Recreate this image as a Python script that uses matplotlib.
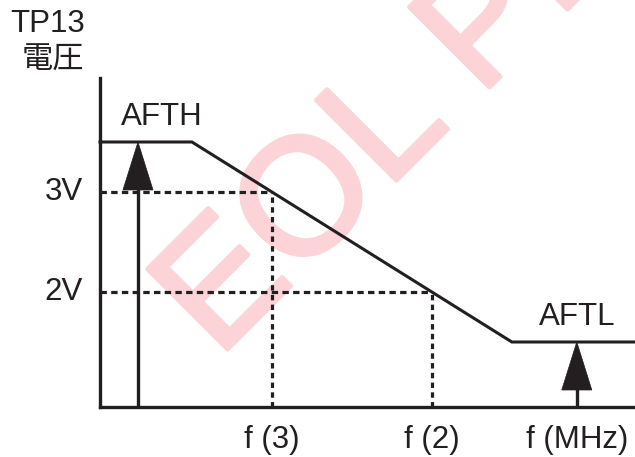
import matplotlib
matplotlib.use("Agg")
import matplotlib.pyplot as plt
import matplotlib.patheffects as pe
from matplotlib.patches import Polygon

plt.rcParams['font.family'] = ['Liberation Sans', 'Noto Sans CJK JP', 'DejaVu Sans']

# response curve: AFTH plateau, linear slope, AFTL plateau
curve_f = [0.925, 1.5, 3.5, 4.27]
curve_v = [3.5, 3.5, 1.5, 1.5]

# reference points on the slope
ref_v = [3.0, 2.0]
ref_f = [2.0, 3.0]
ref_vlabels = ['3V', '2V']
ref_flabels = ['f (3)', 'f (2)']

# AFTH / AFTL adjust arrows
arrow_f = [1.1625, 3.906]
arrow_v = [3.5, 1.5]
arrow_labels = ['AFTH', 'AFTL']
arrow_label_f = [1.31, 3.906]

xmin, xmax = 0.925, 4.27
ymin, ymax = 0.85, 4.14

W, H = 635, 457
fs = 22.5
ink = '#231f20'
wm = '#fcd3d7'

fig = plt.figure(figsize=(W / 100, H / 100), dpi=100)
ax = fig.add_axes([100 / W, (H - 407) / H, 535 / W, (407 - 78) / H])
ax.set_xlim(xmin, xmax)
ax.set_ylim(ymin, ymax)
for s in ['top', 'right']:
    ax.spines[s].set_visible(False)
for s in ['left', 'bottom']:
    ax.spines[s].set_linewidth(2.4)
    ax.spines[s].set_color(ink)
ax.set_xticks([])
ax.set_yticks([])
ax.patch.set_alpha(0)

# watermark, behind everything
ax.text(218 / W, (H - 359) / H, 'EOL PHOTO', transform=fig.transFigure, fontsize=119,
        color=wm, rotation=45, rotation_mode='anchor',
        ha='left', va='baseline', zorder=0, clip_on=False,
        path_effects=[pe.withStroke(linewidth=3, foreground=wm)])

ax.plot(curve_f, curve_v, color=ink, lw=2.2, solid_joinstyle='miter', clip_on=False, zorder=3)

for v, f, vl, fl in zip(ref_v, ref_f, ref_vlabels, ref_flabels):
    ax.plot([xmin, f], [v, v], color=ink, lw=2.3, ls=(0, (2.0, 1.35)), zorder=2)
    ax.plot([f, f], [ymin, v], color=ink, lw=2.3, ls=(0, (1.7, 1.35)), zorder=2)
    ax.text(xmin - 0.106, v, vl, ha='right', va='center', fontsize=fs, color=ink, clip_on=False)
    ax.text(f, ymin - 0.33, fl, ha='center', va='center', fontsize=fs, color=ink, clip_on=False)

ax.text(arrow_f[1], ymin - 0.33, 'f (MHz)', ha='center', va='center', fontsize=fs,
        color=ink, clip_on=False)

hw, hl = 0.094, 0.48
for f, v, lab, lf in zip(arrow_f, arrow_v, arrow_labels, arrow_label_f):
    ax.plot([f, f], [ymin, v - hl + 0.02], color=ink, lw=2.4, zorder=3)
    ax.add_patch(Polygon([[f - hw, v - hl], [f + hw, v - hl], [f, v]], closed=True,
                         facecolor=ink, edgecolor=ink, lw=0.5, zorder=3))
    ax.text(lf, v + 0.25, lab, ha='center', va='center', fontsize=fs, color=ink)

fig.text(48 / W, (H - 24) / H, 'TP13', ha='center', va='center', fontsize=fs, color=ink)
fig.text(53 / W, (H - 61) / H, '電圧', ha='center', va='center', fontsize=fs, color=ink)

fig.savefig('out.png', dpi=100, facecolor='white')
